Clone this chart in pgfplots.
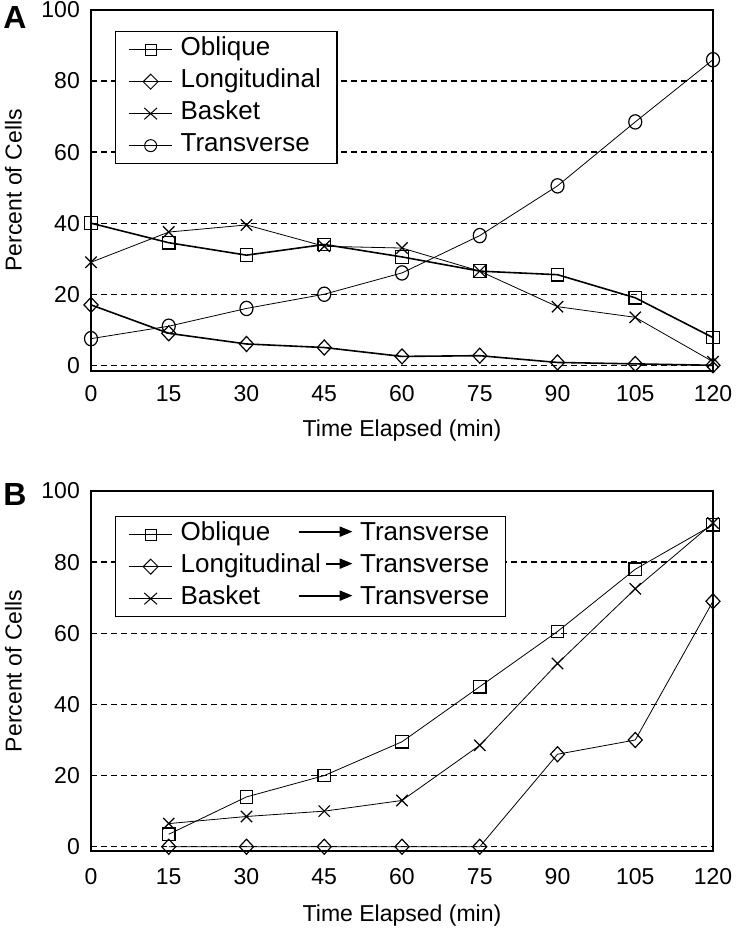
\documentclass[border=0pt]{standalone}
\usepackage{pgfplots}
\pgfplotsset{compat=1.18}
\usepackage{fontspec}
\setmainfont{Liberation Sans}
\usetikzlibrary{arrows.meta}

\newcommand{\myarrow}[1]{\tikz[baseline=-9pt]\draw[line width=2.2pt,-{Triangle[length=13pt,width=10pt]}] (0pt,0pt)--(#1,0pt);}

\pgfplotsset{
  myaxis/.style={
    scale only axis, width=622pt,
    xmin=0, xmax=120, ymax=100,
    xtick={0,15,...,120}, ytick={0,20,...,100},
    major tick length=0pt,
    ymajorgrids,
    grid style={dash pattern=on 6pt off 4pt, line width=1.3pt, black},
    axis line style={line width=2pt},
    clip=false,
    /pgf/number format/assume math mode=true,
    tick label style={font=\fontsize{23}{27}\selectfont},
    label style={font=\fontsize{23}{27}\selectfont},
    yticklabel style={anchor=east, inner sep=0pt, xshift=-11pt},
    xticklabel style={anchor=north, inner sep=0pt},
    ylabel style={at={(axis description cs:-0.1246,0.5)}, anchor=center, rotate=0},
    xlabel style={at={(axis description cs:0.5,0)}, anchor=base},
    ylabel={Percent of Cells},
    xlabel={Time Elapsed (min)},
    legend cell align=left,
    legend style={
      at={(axis description cs:0,1)}, anchor=north west, xshift=24pt,
      draw=black, line width=1.3pt, fill=white,
      font=\fontsize{26}{30}\selectfont,
      inner xsep=13pt, inner ysep=2pt,
      row sep=0pt, column sep=5pt,
      nodes={inner sep=3pt, text height=19pt, text depth=7pt},
    },
    legend image code/.code={
      \draw[line width=1pt, mark repeat=2, mark phase=2]
        plot coordinates {(0pt,0pt) (21.5pt,0pt) (43pt,0pt)};
    },
  },
  sq/.style={mark=square, mark size=6.3pt, mark options={line width=1.2pt},
    legend image post style={mark size=5.4pt, mark options={solid, line width=1pt}}},
  di/.style={mark=diamond, mark size=7.5pt, mark options={line width=1.2pt, xscale=1.25},
    legend image post style={mark size=7.5pt, mark options={solid, line width=1pt, xscale=1.33}}},
  cr/.style={mark=x, mark size=8pt, mark options={line width=1.2pt},
    legend image post style={mark size=9pt, mark options={solid, line width=1pt, yscale=0.9}}},
  ci/.style={mark=o, mark size=6.5pt, mark options={line width=1.2pt, yscale=1.1},
    legend image post style={mark size=6pt, mark options={solid, line width=1pt}}},
}

\begin{document}
\begin{tikzpicture}
\useasboundingbox (0,0) rectangle (737pt,929pt);

% Panel A
\begin{axis}[myaxis, at={(91pt,558.3pt)}, anchor=south west,
  height=360.7pt, ymin=-1.52,
  xticklabel style={yshift=-14.5pt},
  xlabel style={yshift=-66pt},
  legend style={yshift=-21pt}]
\addplot[black, line width=1.6pt, sq] coordinates {
 (0,40) (15,34.5) (30,31) (45,34) (60,30.5) (75,26.5) (90,25.5) (105,19) (120,7.8)};
\addlegendentry{Oblique}
\addplot[black, line width=1.6pt, di] coordinates {
 (0,17) (15,9) (30,6) (45,5) (60,2.5) (75,2.7) (90,0.8) (105,0.4) (120,0)};
\addlegendentry{Longitudinal}
\addplot[black, line width=0.8pt, cr] coordinates {
 (0,29) (15,37.5) (30,39.5) (45,33.5) (60,33) (75,26.5) (90,16.5) (105,13.5) (120,1)};
\addlegendentry{Basket}
\addplot[black, line width=0.8pt, ci] coordinates {
 (0,7.5) (15,11) (30,16) (45,20) (60,26) (75,36.5) (90,50.5) (105,68.5) (120,86)};
\addlegendentry{Transverse}
\end{axis}

% Panel B
\begin{axis}[myaxis, at={(91pt,78.3pt)}, anchor=south west,
  height=359.7pt, ymin=-1.12,
  xticklabel style={yshift=-18pt},
  xlabel style={yshift=-70.5pt},
  legend style={yshift=-25pt}]
\addplot[black, line width=0.8pt, sq] coordinates {
 (15,3.5) (30,14) (45,20) (60,29.5) (75,45) (90,60.5) (105,78) (120,90.5)};
\addlegendentry{\makebox[173pt][l]{Oblique\hfill\myarrow{54pt}}\hspace{6.5pt}Transverse}
\addplot[black, line width=0.8pt, di] coordinates {
 (15,0) (30,0) (45,0) (60,0) (75,0) (90,26) (105,30) (120,69)};
\addlegendentry{\makebox[173pt][l]{Longitudinal\hfill\myarrow{27pt}}\hspace{6.5pt}Transverse}
\addplot[black, line width=0.8pt, cr] coordinates {
 (15,6.5) (30,8.5) (45,10) (60,13) (75,28.5) (90,51.5) (105,72.5) (120,91)};
\addlegendentry{\makebox[173pt][l]{Basket\hfill\myarrow{54pt}}\hspace{6.5pt}Transverse}
\end{axis}

\node[font=\bfseries\fontsize{32}{36}\selectfont, anchor=center] at (15pt,911pt) {A};
\node[font=\bfseries\fontsize{32}{36}\selectfont, anchor=center] at (15pt,435pt) {B};
\end{tikzpicture}
\end{document}
